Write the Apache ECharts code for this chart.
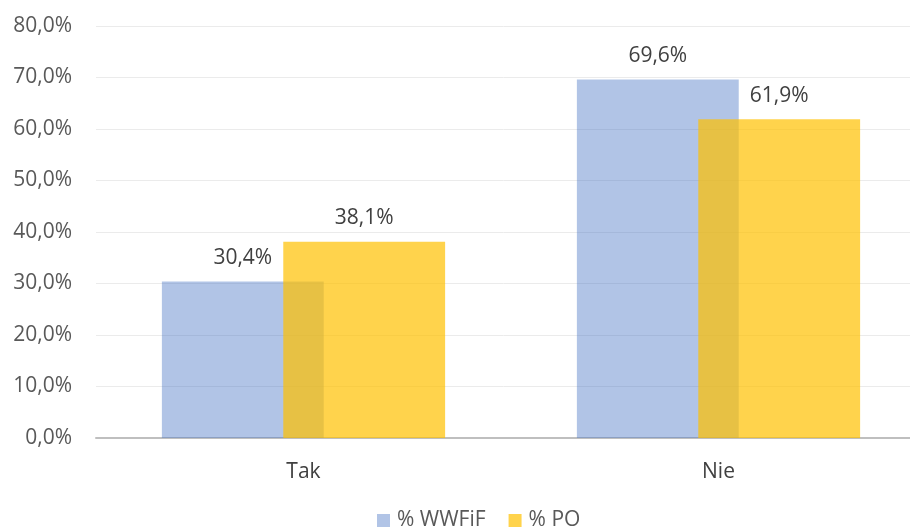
<!DOCTYPE html>
<html>
<head>
<meta charset="utf-8">
<script src="https://cdn.jsdelivr.net/npm/echarts@6/dist/echarts.min.js"></script>
<style>
  html, body { margin: 0; padding: 0; background: #fff; }
  #main { width: 910px; height: 532px; }
</style>
</head>
<body>
<div id="main"></div>
<script>
var categories = ["Tak", "Nie"];
var seriesNames = ["% WWFiF", "% PO"];
var wwfifValues = [30.4, 69.6];
var poValues = [38.1, 61.9];
var yTicks = [0, 10, 20, 30, 40, 50, 60, 70, 80];

function pl(v) {
  return Number(v).toFixed(1).replace(".", ",") + "%";
}

var chart = echarts.init(document.getElementById("main"));
var font = "'Open Sans', 'Noto Sans', sans-serif";
var option = {
  animation: false,
  textStyle: { fontFamily: font },
  // plot runs a bit past the right edge, like the cropped original
  grid: { left: 96, width: 830, top: 26, bottom: 94, outerBoundsMode: "none" },
  legend: {
    left: 377,
    top: 510,
    padding: 0,
    itemWidth: 13,
    itemHeight: 13,
    itemGap: 23,
    icon: "rect",
    data: seriesNames,
    textStyle: { color: "#595959", fontSize: 21, fontFamily: font, padding: [0, 0, 0, 2] }
  },
  xAxis: {
    type: "category",
    data: categories,
    axisTick: { show: false },
    axisLine: { lineStyle: { color: "#bfbfbf", width: 2 } },
    axisLabel: { color: "#404040", fontSize: 21, margin: 24, fontFamily: font }
  },
  yAxis: {
    type: "value",
    min: yTicks[0],
    max: yTicks[yTicks.length - 1],
    interval: 10,
    axisLine: { show: false },
    axisTick: { show: false },
    splitLine: { lineStyle: { color: "#ebebeb", width: 1 } },
    axisLabel: {
      color: "#595959",
      fontSize: 21,
      margin: 24,
      fontFamily: font,
      formatter: function (v) { return pl(v); }
    }
  },
  series: [
    {
      name: seriesNames[0],
      type: "bar",
      data: wwfifValues,
      barWidth: "39%",
      barGap: "-25%",
      itemStyle: { color: "rgba(68,114,196,0.42)" },
      label: {
        show: true,
        position: "top",
        distance: 13,
        color: "#404040",
        fontSize: 21,
        fontFamily: font,
        formatter: function (p) { return pl(p.value); }
      }
    },
    {
      name: seriesNames[1],
      type: "bar",
      data: poValues,
      barWidth: "39%",
      barGap: "-25%",
      itemStyle: { color: "rgba(255,192,0,0.7)" },
      label: {
        show: true,
        position: "top",
        distance: 13,
        color: "#404040",
        fontSize: 21,
        fontFamily: font,
        formatter: function (p) { return pl(p.value); }
      }
    }
  ]
};
chart.setOption(option);
</script>
</body>
</html>
